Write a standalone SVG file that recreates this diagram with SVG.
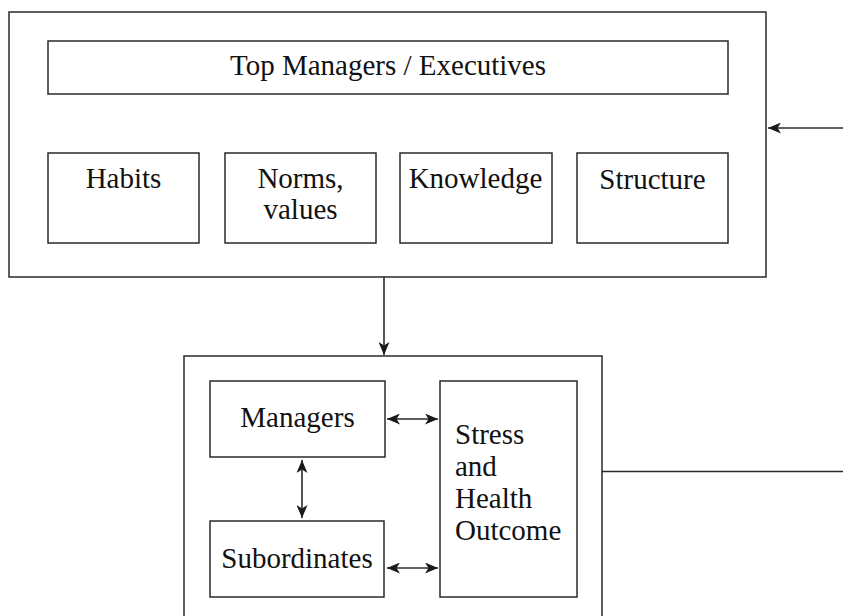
<svg xmlns="http://www.w3.org/2000/svg" width="843" height="616" viewBox="0 0 843 616">
<style>
.box{fill:#fff;stroke:#2a2a2a;stroke-width:1.5}
.t{font-family:"Liberation Serif","Times New Roman",serif;font-size:29px;fill:#111}
.c{text-anchor:middle}
.ln{stroke:#2a2a2a;stroke-width:1.6;fill:none}
</style>
<defs>
<marker id="ah" viewBox="0 0 13 11" refX="13" refY="5.5" markerWidth="13" markerHeight="11" markerUnits="userSpaceOnUse" orient="auto-start-reverse">
<path d="M0,0 L13,5.5 L0,11 L3.5,5.5 Z" fill="#1a1a1a"/>
</marker>
</defs>
<rect width="843" height="616" fill="#fff"/>
<g id="outer-top"><rect class="box" x="9" y="12" width="757" height="265"/></g>
<g id="top-managers"><rect class="box" x="48" y="41" width="680" height="53"/><text class="t c" x="388" y="75">Top Managers / Executives</text></g>
<g id="habits"><rect class="box" x="48" y="153" width="151" height="90"/><text class="t c" x="123.5" y="188">Habits</text></g>
<g id="norms"><rect class="box" x="225" y="153" width="151" height="90"/><text class="t c" x="300.5" y="188">Norms,</text><text class="t c" x="300.5" y="219">values</text></g>
<g id="knowledge"><rect class="box" x="400" y="153" width="152" height="90"/><text class="t c" x="475.5" y="188">Knowledge</text></g>
<g id="structure"><rect class="box" x="577" y="153" width="151" height="90"/><text class="t c" x="652.5" y="189">Structure</text></g>
<g id="outer-bottom"><rect class="box" x="184" y="356" width="418" height="270"/></g>
<g id="managers"><rect class="box" x="210" y="381" width="175" height="76"/><text class="t c" x="297.5" y="427">Managers</text></g>
<g id="subordinates"><rect class="box" x="210" y="521" width="174" height="76"/><text class="t c" x="297" y="568">Subordinates</text></g>
<g id="stress"><rect class="box" x="440" y="381" width="137" height="216"/><text class="t" x="455" y="444">Stress</text><text class="t" x="455" y="476">and</text><text class="t" x="455" y="508">Health</text><text class="t" x="455" y="540">Outcome</text></g>
<g id="connectors">
<line class="ln" x1="843" y1="128" x2="768" y2="128" marker-end="url(#ah)"/>
<line class="ln" x1="384" y1="277" x2="384" y2="355" marker-end="url(#ah)"/>
<line class="ln" x1="387" y1="419" x2="438" y2="419" marker-start="url(#ah)" marker-end="url(#ah)"/>
<line class="ln" x1="387" y1="568" x2="438" y2="568" marker-start="url(#ah)" marker-end="url(#ah)"/>
<line class="ln" x1="302" y1="460" x2="302" y2="518" marker-start="url(#ah)" marker-end="url(#ah)"/>
<line class="ln" x1="602" y1="471.5" x2="843" y2="471.5"/>
</g>
</svg>
